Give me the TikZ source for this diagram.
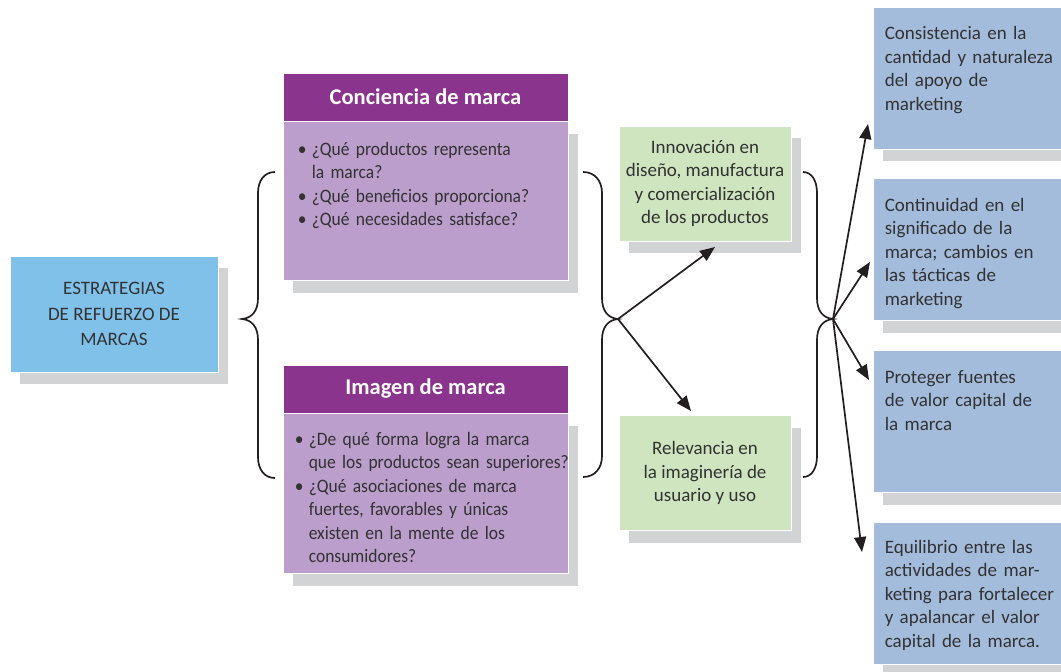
\documentclass[tikz,border=0pt]{standalone}
\usepackage{fontspec}
\setmainfont{Carlito}
\newfontfamily\narrowfam{Carlito}[FakeStretch=0.92]
\usepackage{tikz}
\usetikzlibrary{arrows.meta, positioning, shadows}
\definecolor{stratBlue}{RGB}{128,193,234}
\definecolor{brandPurple}{RGB}{139,52,142}
\definecolor{brandLilac}{RGB}{187,158,204}
\definecolor{brandGreen}{RGB}{207,229,192}
\definecolor{tacticBlue}{RGB}{164,188,220}
\definecolor{shadeGray}{RGB}{210,211,213}
\definecolor{darkText}{RGB}{50,50,50}
\definecolor{lineInk}{RGB}{35,31,32}
\newcommand{\qitem}[1]{\hangindent=14pt\hangafter=1\noindent\makebox[14pt][l]{\textbullet}#1\par}
\tikzset{
    panel/.style={rectangle, draw=white, line width=0.8pt, fill=#1, inner sep=0pt,
                  drop shadow={shadow xshift=10pt, shadow yshift=-12pt, fill=shadeGray, opacity=1}},
    panel/.default=stratBlue,
    head/.style={rectangle, draw=white, line width=0.8pt, fill=brandPurple, text=white,
                 font=\fontsize{22.5}{26}\selectfont\bfseries, minimum width=285pt, minimum height=48pt},
    txt/.style={text=darkText, font=\fontsize{19}{23.5}\selectfont, inner sep=0pt},
    qtxt/.style={txt, font=\narrowfam\fontsize{19}{23.5}\selectfont, text width=300pt, align=left, anchor=base west},
    brace/.style={line width=1.7pt, draw=lineInk},
    flow/.style={-{Triangle[length=15pt, width=12pt]}, line width=1.7pt, draw=lineInk}
}

\begin{document}
\begin{tikzpicture}[x=1pt, y=-1pt]
    \useasboundingbox (0,0) rectangle (1061,672);

    \node[panel=stratBlue, txt, minimum width=208pt, minimum height=116pt, align=center,
          font=\fontsize{19}{25.5}\selectfont] (strat) at (114,314) {ESTRATEGIAS\\DE REFUERZO DE\\MARCAS};

    \node[head] (awareHead) at (425.5,97) {Conciencia de marca};
    \node[panel=brandLilac, minimum width=285pt, minimum height=159pt, below=0pt of awareHead] (aware) {};
    \node[qtxt] (awareTxt) at ([xshift=15pt, yshift=-34pt]aware.north west)
        {\qitem{¿Qué productos representa\newline la marca?}\qitem{¿Qué beneficios proporciona?}\qitem{¿Qué necesidades satisface?}};

    \node[head] (imageHead) at (425.5,389) {Imagen de marca};
    \node[panel=brandLilac, minimum width=285pt, minimum height=160pt, below=0pt of imageHead] (image) {};
    \node[qtxt] (imageTxt) at ([xshift=12pt, yshift=-32pt]image.north west)
        {\qitem{¿De qué forma logra la marca\newline que los productos sean superiores?}\qitem{¿Qué asociaciones de marca\newline fuertes, favorables y únicas\newline existen en la mente de los\newline consumidores?}};

    \node[panel=brandGreen, txt, minimum width=172pt, minimum height=115pt, align=center] (innov) at (705,183.5)
        {Innovación en\\diseño, manufactura\\y comercialización\\de los productos};
    \node[panel=brandGreen, txt, minimum width=172pt, minimum height=115pt, align=center] (relev) at (705,473)
        {Relevancia en\\la imaginería de\\usuario y uso};

    \node[panel=tacticBlue, minimum width=200pt, minimum height=142pt] (cons) at (973,78) {};
    \node[panel=tacticBlue, minimum width=200pt, minimum height=142pt, below=29pt of cons] (cont) {};
    \node[panel=tacticBlue, minimum width=200pt, minimum height=142pt, below=29pt of cont] (prot) {};
    \node[panel=tacticBlue, minimum width=200pt, minimum height=142pt, below=29pt of prot] (equi) {};
    \node[txt, text width=180pt, align=left, anchor=base west] (consTxt) at ([xshift=12pt, yshift=-33pt]cons.north west)
        {Consistencia en la\\cantidad y naturaleza\\del apoyo de\\marketing};
    \node[txt, text width=180pt, align=left, anchor=base west] (contTxt) at ([xshift=12pt, yshift=-33pt]cont.north west)
        {Continuidad en el\\significado de la\\marca; cambios en\\las tácticas de\\marketing};
    \node[txt, text width=180pt, align=left, anchor=base west] (protTxt) at ([xshift=12pt, yshift=-33pt]prot.north west)
        {Proteger fuentes\\de valor capital de\\la marca};
    \node[txt, text width=180pt, align=left, anchor=base west] (equiTxt) at ([xshift=12pt, yshift=-31pt]equi.north west)
        {Equilibrio entre las\\actividades de mar-\\keting para fortalecer\\y apalancar el valor\\capital de la marca.};

    % braces
    \coordinate (tipL) at (242,319);
    \coordinate (tipM) at (618,319);
    \coordinate (tipR) at (833,319);
    \draw[brace] (275,172) .. controls (264,172) and (258,181) .. (258,193) -- (258,298)
        .. controls (258,311) and (252,318) .. (tipL) .. controls (252,320) and (258,327) .. (258,340)
        -- (258,457) .. controls (258,469) and (264,478) .. (275,478);
    \draw[brace] (583,172) .. controls (595,172) and (602,181) .. (602,193) -- (602,298)
        .. controls (602,311) and (608,318) .. (tipM) .. controls (608,320) and (602,327) .. (602,340)
        -- (602,456) .. controls (602,468) and (595,477) .. (583,477);
    \draw[brace] (803,172) .. controls (812,172) and (817,181) .. (817,193) -- (817,298)
        .. controls (817,311) and (823,318) .. (tipR) .. controls (823,320) and (817,327) .. (817,340)
        -- (817,456) .. controls (817,468) and (812,477) .. (803,477);

    % arrows
    \coordinate (toInnov) at (715,247);
    \coordinate (toRelev) at (691,411);
    \coordinate (toCons) at (868,124);
    \coordinate (toCont) at (870,262);
    \coordinate (toProt) at (869,380);
    \coordinate (toEqui) at (862,552);
    \draw[flow] (tipM) -- (toInnov);
    \draw[flow] (tipM) -- (toRelev);
    \draw[flow] (tipR) -- (toCons);
    \draw[flow] (tipR) -- (toCont);
    \draw[flow] (tipR) -- (toProt);
    \draw[flow] (tipR) -- (toEqui);
\end{tikzpicture}
\end{document}
